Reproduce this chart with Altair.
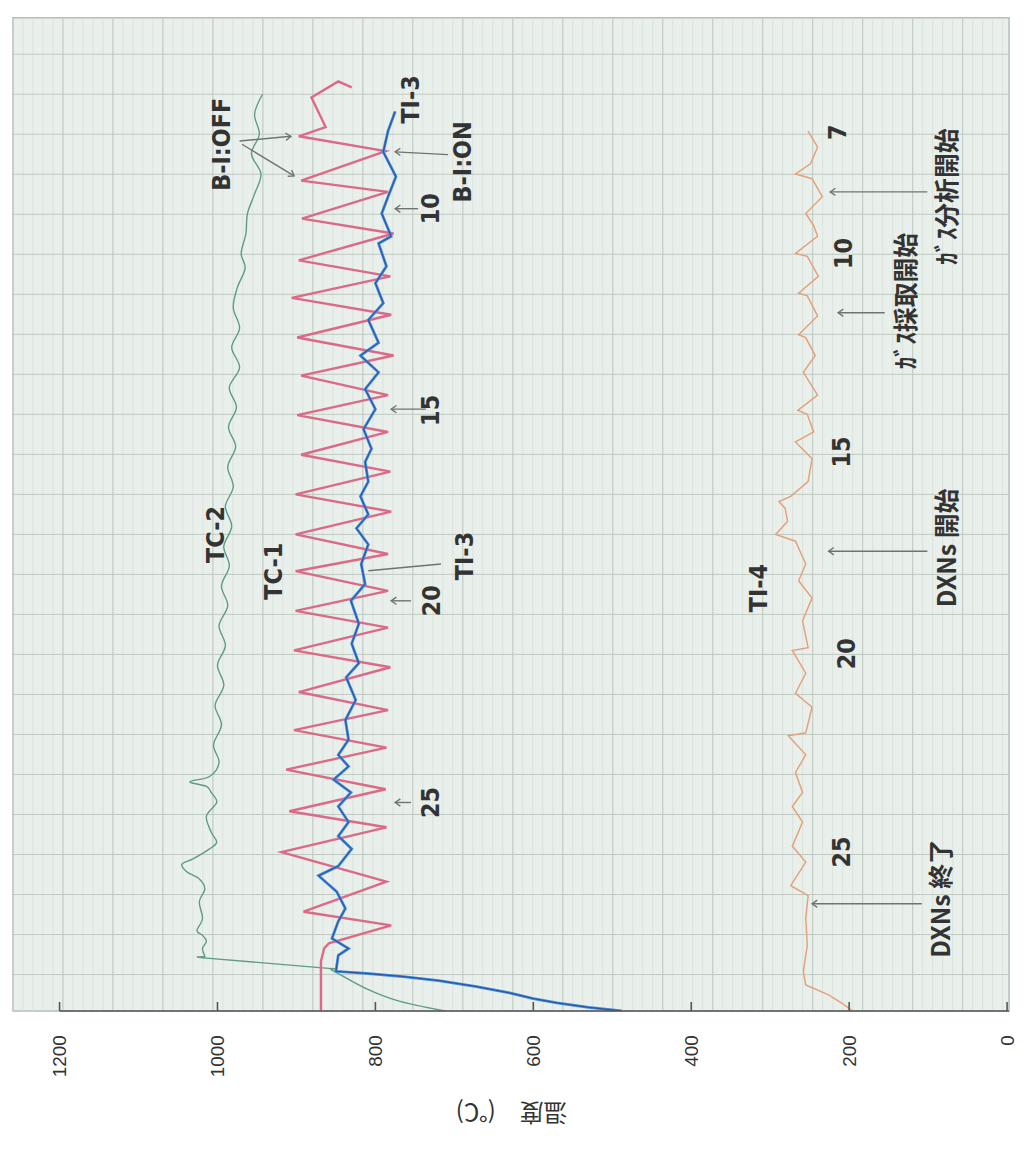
import altair as alt
import pandas as pd

# ---------------- data (time in minutes, temperature in deg C) ----------------
tc1_time = [5.83, 5.68, 6.08, 6.82, 7.05, 7.42, 8.16, 8.44, 9.11, 9.48, 10.15, 10.55, 11.09, 11.51,
            12.08, 12.53, 13.03, 13.52, 14.02, 14.44, 15.01, 15.43, 16.00, 16.43, 17.00, 17.49,
            17.92, 18.41, 18.91, 19.33, 19.90, 20.32, 20.94, 21.39, 21.89, 22.33, 22.88, 23.37,
            23.92, 24.32, 24.94, 25.68, 26.43, 26.77, 27.22, 27.35, 27.67, 28.91]
tc1_temp = [830, 847, 881, 863, 897, 787, 894, 784, 893, 777, 897, 781, 906, 780,
            899, 777, 894, 784, 899, 784, 894, 781, 901, 780, 901, 784,
            901, 784, 901, 784, 903, 781, 897, 784, 903, 786, 913, 787,
            909, 786, 919, 786, 891, 780, 859, 865, 869, 869]

ti3_time = [6.43, 6.92, 7.44, 8.06, 8.56, 8.98, 9.55, 9.73, 10.30, 10.72, 11.22, 11.64, 12.21,
            12.53, 12.95, 13.37, 13.87, 14.37, 14.86, 15.19, 15.68, 16.05, 16.50, 16.85, 17.25,
            17.74, 18.24, 18.66, 19.23, 19.73, 20.22, 20.57, 21.14, 21.64, 22.13, 22.51, 22.80,
            23.13, 23.45, 23.80, 24.19, 24.54, 24.86, 25.29, 25.53, 25.93, 26.35, 26.67, 27.10,
            27.35, 27.52, 27.92, 27.97, 28.05, 28.15, 28.30, 28.46, 28.60, 28.71, 28.82, 28.91]
ti3_temp = [775, 784, 790, 774, 784, 792, 780, 796, 786, 800, 790, 809, 796,
            819, 796, 813, 800, 815, 805, 813, 809, 819, 809, 824, 809,
            818, 813, 831, 821, 830, 821, 837, 825, 838, 834, 847, 834,
            853, 831, 847, 834, 847, 830, 847, 872, 849, 838, 847, 855,
            834, 847, 850, 812, 765, 720, 672, 630, 600, 570, 530, 488]

tc2_time = [6.00, 6.50, 7.00, 7.49, 7.99, 8.49, 8.98, 9.48, 9.98, 10.35, 10.84, 11.34, 11.84,
            12.33, 12.83, 13.33, 13.82, 14.32, 14.81, 15.31, 15.81, 16.30, 16.80, 17.30, 17.79,
            18.29, 18.78, 19.28, 19.78, 20.27, 20.77, 21.27, 21.76, 22.26, 22.70, 23.05, 23.18,
            23.30, 23.45, 23.70, 24.04, 24.44, 24.69, 24.86, 25.11, 25.24, 25.43, 25.61, 25.86,
            26.18, 26.60, 26.90, 27.02, 27.17, 27.35, 27.54, 27.59, 27.84, 27.89, 28.34, 28.66,
            28.91]
tc2_temp = [943, 953, 947, 957, 945, 953, 962, 964, 970, 965, 975, 980, 972,
            982, 972, 985, 976, 986, 977, 987, 980, 990, 982, 992, 985,
            995, 987, 998, 990, 1000, 992, 1003, 995, 1005, 998, 1010, 1035,
            1014, 1008, 1001, 1014, 1008, 1001, 1010, 1031, 1045, 1039, 1023, 1016,
            1023, 1019, 1026, 1019, 1014, 1019, 1016, 1014, 863, 855, 813, 771,
            712]

ti4_time = [6.92, 7.32, 7.74, 7.99, 8.11, 8.56, 8.98, 9.28, 9.55, 9.98, 10.05, 10.55, 10.97,
            11.04, 11.54, 12.01, 12.08, 12.53, 12.95, 13.52, 13.90, 14.00, 14.44, 14.69, 15.11,
            15.68, 16.05, 16.18, 16.35, 16.67, 17.00, 17.17, 17.74, 18.16, 18.59, 19.16, 19.83,
            19.90, 20.47, 20.97, 21.32, 21.96, 22.03, 22.51, 22.95, 23.45, 23.80, 24.19, 24.79,
            25.19, 25.78, 26.03, 26.60, 27.27, 27.92, 28.26, 28.51, 28.73, 28.91]
ti4_temp = [252, 240, 249, 268, 247, 234, 255, 245, 240, 268, 253, 239, 264,
            253, 240, 264, 255, 243, 258, 240, 265, 253, 245, 268, 247,
            252, 274, 289, 281, 278, 293, 268, 255, 264, 247, 259, 252,
            272, 255, 268, 247, 255, 277, 255, 268, 259, 272, 259, 272,
            255, 274, 252, 255, 253, 258, 255, 226, 208, 196]

# annotation labels
label_text = ["TC-2", "TC-1", "TI-3", "TI-3", "B-I:ON", "B-I:OFF", "10", "15", "20", "25",
              "TI-4", "7", "10", "15", "20", "25",
              "ｶﾞｽ分析開始", "ｶﾞｽ採取開始", "DXNs 開始", "DXNs 終了"]
label_time = [17.0, 17.92, 17.54, 6.13, 7.69, 7.25, 8.86, 13.9, 18.66, 23.7,
              18.34, 6.95, 9.98, 14.94, 19.98, 24.94,
              8.56, 11.17, 17.34, 26.1]
label_temp = [1002, 928, 687, 755, 689, 994, 730, 730, 728, 730,
              314, 214, 207, 209, 203, 209,
              75, 127, 75, 82]

# arrows: tail -> head
arrow_t1 = [7.51, 8.86, 13.87, 18.66, 23.7, 17.74, 7.17, 7.25, 8.44, 11.46, 17.42, 26.23]
arrow_v1 = [708, 746, 736, 755, 755, 717, 972, 969, 101, 155, 101, 108]
arrow_t2 = [7.44, 8.86, 13.87, 18.66, 23.7, 17.91, 7.05, 8.04, 8.44, 11.46, 17.42, 26.23]
arrow_v2 = [775, 775, 780, 780, 775, 809, 907, 903, 224, 214, 226, 247]
arrow_head = [True, True, True, True, True, False, True, True, True, True, True, True]
arrow_dir = [180, 180, 180, 180, 180, 0, 354, 32, 180, 180, 180, 180]

temp_ticks = [0, 200, 400, 600, 800, 1000, 1200]
paper_major_temp = [1259 - 63.3 * k for k in range(20)]
paper_minor_temp = [1259 - 12.66 * k for k in range(100)]
paper_minutes = list(range(5, 29))

T_DOMAIN = [1259, -2.5]
M_DOMAIN = [4.09, 28.91]

XS = alt.Scale(domain=T_DOMAIN, nice=False, zero=False)
YS = alt.Scale(domain=M_DOMAIN, nice=False, zero=False, reverse=True)
XA = alt.Axis(values=temp_ticks, format="d", title="温度　(℃)", labelAngle=-90, labelFontSize=19,
              labelFont="Liberation Sans", labelColor="#333", ticks=False, domain=False,
              grid=False, labelPadding=24, titleAngle=180, titleFont="Noto Sans CJK JP",
              titleFontSize=24, titleFontWeight="normal", titleColor="#333", titlePadding=46)


def X(field):
    return alt.X(field, type="quantitative", scale=XS, axis=XA)


def Y(field):
    return alt.Y(field, type="quantitative", scale=YS, axis=None)


def series(t, v):
    return pd.DataFrame({"t": t, "v": v, "i": list(range(len(t)))})


minor_v = alt.Chart(pd.DataFrame({"v": paper_minor_temp})).mark_rule(
    color="#d8e0da", strokeWidth=0.8).encode(x=X("v"))
major_v = alt.Chart(pd.DataFrame({"v": paper_major_temp})).mark_rule(
    color="#bfcac2", strokeWidth=1.0).encode(x=X("v"))
major_h = alt.Chart(pd.DataFrame({"t": paper_minutes})).mark_rule(
    color="#bfcac2", strokeWidth=1.0).encode(y=Y("t"))


def line(df, color, width, interp="linear"):
    return alt.Chart(df).mark_line(color=color, strokeWidth=width, interpolate=interp,
                                   clip=True).encode(x=X("v"), y=Y("t"), order="i:Q")


tc2 = line(series(tc2_time, tc2_temp), "#5f9c82", 1.4, "cardinal")
ti4 = line(series(ti4_time, ti4_temp), "#e3a27c", 1.5)
tc1 = line(series(tc1_time, tc1_temp), "#dc6a86", 2.4)
ti3 = line(series(ti3_time, ti3_temp), "#4088d8", 2.8)
ti3b = line(series(ti3_time, ti3_temp), "#2c4f9e", 1.0)

axis_df = pd.DataFrame({"v": [1200], "v2": [T_DOMAIN[1]]})
axis_line = alt.Chart(axis_df).mark_rule(color="#555", strokeWidth=1.6).encode(
    x=X("v"), x2="v2", y=alt.value(1000))
axis_ticks = alt.Chart(pd.DataFrame({"v": temp_ticks})).mark_rule(
    color="#555", strokeWidth=1.6).encode(x=X("v"), y=alt.value(991), y2=alt.value(1000))

labels_df = pd.DataFrame({"txt": label_text, "t": label_time, "v": label_temp})
is_jp = labels_df["txt"].str.contains("ｶ|DXN")
labels_en = alt.Chart(labels_df[~is_jp]).mark_text(
    angle=270, font="DejaVu Sans Condensed, sans-serif",
    fontSize=25, fontWeight="bold", color="#333").encode(x=X("v"), y=Y("t"), text="txt:N")
labels_jp = alt.Chart(labels_df[is_jp]).mark_text(
    angle=270, font="Noto Sans CJK JP", fontSize=25, fontWeight="bold",
    color="#333").encode(x=X("v"), y=Y("t"), text="txt:N")

arrows_df = pd.DataFrame({"t1": arrow_t1, "v1": arrow_v1, "t2": arrow_t2, "v2": arrow_v2,
                          "head": arrow_head, "ang": arrow_dir})
arrow_lines = alt.Chart(arrows_df).mark_rule(color="#6f7470", strokeWidth=1.4).encode(
    x=X("v1"), x2="v2", y=Y("t1"), y2="t2")
arrow_heads = alt.Chart(arrows_df[arrows_df["head"]]).mark_point(
    shape="M-1,-0.7L0,0L-1,0.7", filled=False, color="#6f7470", strokeWidth=1.4,
    size=110, opacity=1).encode(x=X("v2"), y=Y("t2"), angle=alt.Angle("ang:Q", scale=None))

chart = alt.layer(
    minor_v, major_v, major_h, tc2, ti4, tc1, ti3, ti3b,
    arrow_lines, arrow_heads, labels_en, labels_jp, axis_line, axis_ticks
).properties(
    width=1003, height=1000,
    padding={"left": 4, "top": 5, "right": 0, "bottom": 5},
    background="white"
).configure_view(fill="#e9efea", stroke="#b5beb8", strokeWidth=1.5)

chart.save("out.html", embed_options={"renderer": "svg", "actions": False})
